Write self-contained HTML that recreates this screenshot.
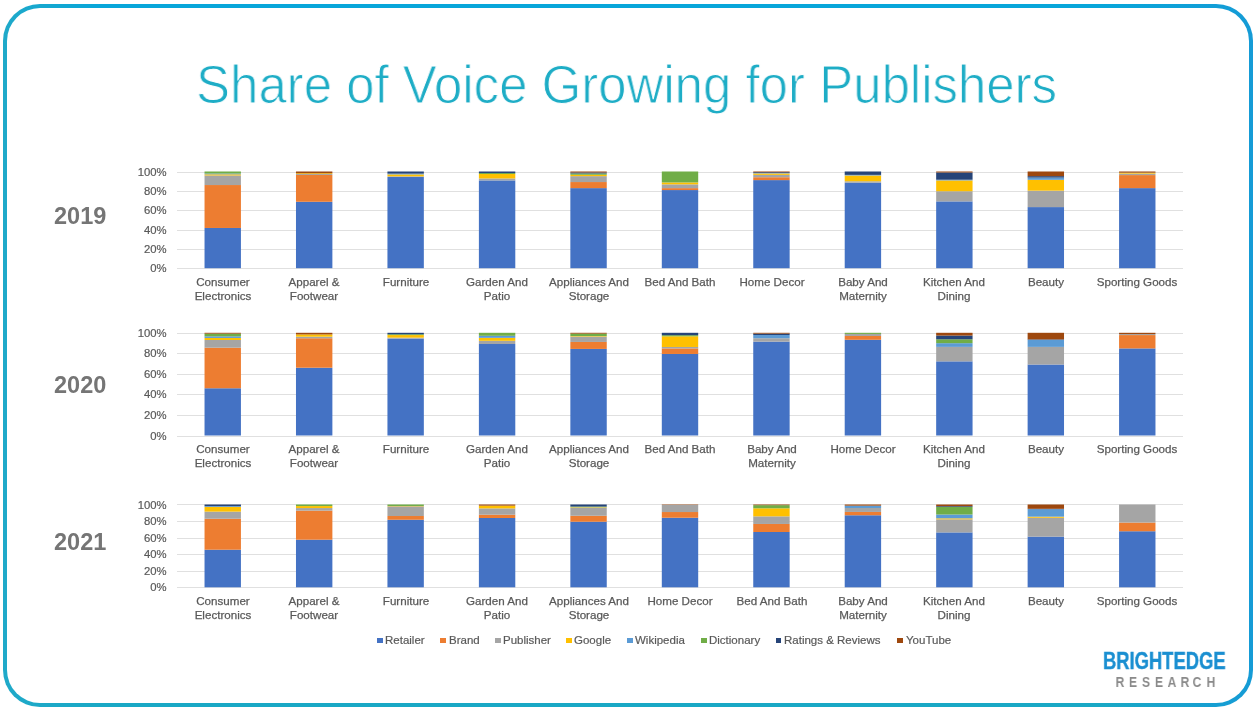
<!DOCTYPE html>
<html><head><meta charset="utf-8"><title>Share of Voice Growing for Publishers</title>
<style>
*{margin:0;padding:0;box-sizing:border-box}
html,body{width:1260px;height:713px;overflow:hidden;background:#fff;font-family:"Liberation Sans",sans-serif;-webkit-font-smoothing:antialiased}
#frame{position:absolute;left:3px;top:4px;width:1250px;height:703px;border-radius:37px;background:linear-gradient(90deg,rgba(31,169,201,1) 0%,rgba(31,169,201,0) 8%,rgba(21,155,214,0) 88%,rgba(21,155,214,1) 100%),linear-gradient(180deg,#07a6da 0%,#12a6d2 50%,#19a8c5 100%)}
#inner{position:absolute;left:4px;top:4px;right:4px;bottom:4px;border-radius:33px;background:#fff}
#title{position:absolute;will-change:transform;left:195.5px;top:58px;font-size:54.3px;line-height:54.3px;color:#1eadc6;white-space:nowrap;transform-origin:0 0;transform:scaleX(0.9385);-webkit-text-stroke:1.0px #fff;paint-order:normal;}
svg{position:absolute;left:0;top:0}
.ax{position:absolute;will-change:transform;left:100px;width:66.6px;text-align:right;font-size:11.3px;line-height:14px;color:#595959;white-space:nowrap;-webkit-text-stroke:0.2px #595959}
.cl{position:absolute;will-change:transform;width:100px;text-align:center;font-size:11.6px;line-height:13.5px;color:#595959;white-space:nowrap;-webkit-text-stroke:0.25px #595959}
.yr{position:absolute;will-change:transform;left:53.7px;font-size:23.5px;line-height:24px;font-weight:bold;color:#757575}
.lsq{position:absolute;top:638px;width:5.6px;height:5.4px}
.lt{position:absolute;will-change:transform;top:632.7px;font-size:11.5px;line-height:14px;color:#595959;white-space:nowrap;-webkit-text-stroke:0.2px #595959}
#be{position:absolute;will-change:transform;left:1103px;top:650px;font-size:23px;line-height:23px;font-weight:bold;color:#1a8fd1;-webkit-text-stroke:0.4px #1a8fd1;transform-origin:0 0;transform:scaleX(0.8);white-space:nowrap}
.rsl{position:absolute;will-change:transform;top:673.6px;width:20px;text-align:center;font-size:15px;line-height:15px;font-weight:bold;color:#8a8a8a;transform:scaleX(0.82)}
</style></head><body>
<div id="frame"><div id="inner"></div></div>
<div id="title">Share of Voice Growing for Publishers</div>
<svg width="1260" height="713" viewBox="0 0 1260 713">
<line x1="177.0" x2="1183.0" y1="268.5" y2="268.5" stroke="#e0e0e0" stroke-width="1"/>
<line x1="177.0" x2="1183.0" y1="249.5" y2="249.5" stroke="#e0e0e0" stroke-width="1"/>
<line x1="177.0" x2="1183.0" y1="230.5" y2="230.5" stroke="#e0e0e0" stroke-width="1"/>
<line x1="177.0" x2="1183.0" y1="210.5" y2="210.5" stroke="#e0e0e0" stroke-width="1"/>
<line x1="177.0" x2="1183.0" y1="191.5" y2="191.5" stroke="#e0e0e0" stroke-width="1"/>
<line x1="177.0" x2="1183.0" y1="172.5" y2="172.5" stroke="#e0e0e0" stroke-width="1"/>
<rect x="204.53" y="227.97" width="36.4" height="40.23" fill="#4472C4"/>
<rect x="204.53" y="185.04" width="36.4" height="42.93" fill="#ED7D31"/>
<rect x="204.53" y="175.46" width="36.4" height="9.57" fill="#A5A5A5"/>
<rect x="204.53" y="174.30" width="36.4" height="1.16" fill="#FFC000"/>
<rect x="204.53" y="173.53" width="36.4" height="0.77" fill="#5B9BD5"/>
<rect x="204.53" y="171.50" width="36.4" height="2.03" fill="#70AD47"/>
<rect x="295.98" y="201.77" width="36.4" height="66.43" fill="#4472C4"/>
<rect x="295.98" y="174.98" width="36.4" height="26.79" fill="#ED7D31"/>
<rect x="295.98" y="174.01" width="36.4" height="0.97" fill="#A5A5A5"/>
<rect x="295.98" y="173.24" width="36.4" height="0.77" fill="#FFC000"/>
<rect x="295.98" y="171.50" width="36.4" height="1.74" fill="#9E480E"/>
<rect x="387.44" y="177.01" width="36.4" height="91.19" fill="#4472C4"/>
<rect x="387.44" y="176.34" width="36.4" height="0.68" fill="#A5A5A5"/>
<rect x="387.44" y="174.40" width="36.4" height="1.93" fill="#FFC000"/>
<rect x="387.44" y="173.63" width="36.4" height="0.77" fill="#5B9BD5"/>
<rect x="387.44" y="171.50" width="36.4" height="2.13" fill="#264478"/>
<rect x="478.89" y="180.40" width="36.4" height="87.80" fill="#4472C4"/>
<rect x="478.89" y="178.46" width="36.4" height="1.93" fill="#A5A5A5"/>
<rect x="478.89" y="174.01" width="36.4" height="4.45" fill="#FFC000"/>
<rect x="478.89" y="173.05" width="36.4" height="0.97" fill="#70AD47"/>
<rect x="478.89" y="171.50" width="36.4" height="1.55" fill="#264478"/>
<rect x="570.35" y="188.13" width="36.4" height="80.07" fill="#4472C4"/>
<rect x="570.35" y="182.04" width="36.4" height="6.09" fill="#ED7D31"/>
<rect x="570.35" y="176.14" width="36.4" height="5.90" fill="#A5A5A5"/>
<rect x="570.35" y="174.79" width="36.4" height="1.35" fill="#FFC000"/>
<rect x="570.35" y="173.43" width="36.4" height="1.35" fill="#70AD47"/>
<rect x="570.35" y="172.47" width="36.4" height="0.97" fill="#264478"/>
<rect x="570.35" y="171.50" width="36.4" height="0.97" fill="#9E480E"/>
<rect x="661.80" y="190.07" width="36.4" height="78.13" fill="#4472C4"/>
<rect x="661.80" y="188.13" width="36.4" height="1.93" fill="#ED7D31"/>
<rect x="661.80" y="184.36" width="36.4" height="3.77" fill="#A5A5A5"/>
<rect x="661.80" y="182.43" width="36.4" height="1.93" fill="#FFC000"/>
<rect x="661.80" y="171.50" width="36.4" height="10.93" fill="#70AD47"/>
<rect x="753.25" y="180.11" width="36.4" height="88.09" fill="#4472C4"/>
<rect x="753.25" y="177.21" width="36.4" height="2.90" fill="#ED7D31"/>
<rect x="753.25" y="174.88" width="36.4" height="2.32" fill="#A5A5A5"/>
<rect x="753.25" y="173.43" width="36.4" height="1.45" fill="#FFC000"/>
<rect x="753.25" y="172.95" width="36.4" height="0.48" fill="#5B9BD5"/>
<rect x="753.25" y="172.18" width="36.4" height="0.77" fill="#264478"/>
<rect x="753.25" y="171.50" width="36.4" height="0.68" fill="#9E480E"/>
<rect x="844.71" y="182.72" width="36.4" height="85.48" fill="#4472C4"/>
<rect x="844.71" y="181.27" width="36.4" height="1.45" fill="#A5A5A5"/>
<rect x="844.71" y="175.46" width="36.4" height="5.80" fill="#FFC000"/>
<rect x="844.71" y="174.88" width="36.4" height="0.58" fill="#5B9BD5"/>
<rect x="844.71" y="171.50" width="36.4" height="3.38" fill="#264478"/>
<rect x="936.16" y="201.38" width="36.4" height="66.82" fill="#4472C4"/>
<rect x="936.16" y="191.23" width="36.4" height="10.15" fill="#A5A5A5"/>
<rect x="936.16" y="180.40" width="36.4" height="10.83" fill="#FFC000"/>
<rect x="936.16" y="179.72" width="36.4" height="0.68" fill="#5B9BD5"/>
<rect x="936.16" y="172.47" width="36.4" height="7.25" fill="#264478"/>
<rect x="936.16" y="171.50" width="36.4" height="0.97" fill="#9E480E"/>
<rect x="1027.62" y="207.09" width="36.4" height="61.11" fill="#4472C4"/>
<rect x="1027.62" y="190.65" width="36.4" height="16.44" fill="#A5A5A5"/>
<rect x="1027.62" y="179.82" width="36.4" height="10.83" fill="#FFC000"/>
<rect x="1027.62" y="177.59" width="36.4" height="2.22" fill="#5B9BD5"/>
<rect x="1027.62" y="176.14" width="36.4" height="1.45" fill="#264478"/>
<rect x="1027.62" y="171.50" width="36.4" height="4.64" fill="#9E480E"/>
<rect x="1119.07" y="188.13" width="36.4" height="80.07" fill="#4472C4"/>
<rect x="1119.07" y="175.08" width="36.4" height="13.05" fill="#ED7D31"/>
<rect x="1119.07" y="173.63" width="36.4" height="1.45" fill="#A5A5A5"/>
<rect x="1119.07" y="172.66" width="36.4" height="0.97" fill="#FFC000"/>
<rect x="1119.07" y="171.50" width="36.4" height="1.16" fill="#9E480E"/>
<line x1="177.0" x2="1183.0" y1="436.5" y2="436.5" stroke="#e0e0e0" stroke-width="1"/>
<line x1="177.0" x2="1183.0" y1="415.5" y2="415.5" stroke="#e0e0e0" stroke-width="1"/>
<line x1="177.0" x2="1183.0" y1="394.5" y2="394.5" stroke="#e0e0e0" stroke-width="1"/>
<line x1="177.0" x2="1183.0" y1="374.5" y2="374.5" stroke="#e0e0e0" stroke-width="1"/>
<line x1="177.0" x2="1183.0" y1="353.5" y2="353.5" stroke="#e0e0e0" stroke-width="1"/>
<line x1="177.0" x2="1183.0" y1="333.5" y2="333.5" stroke="#e0e0e0" stroke-width="1"/>
<rect x="204.53" y="388.26" width="36.4" height="47.24" fill="#4472C4"/>
<rect x="204.53" y="347.69" width="36.4" height="40.57" fill="#ED7D31"/>
<rect x="204.53" y="339.99" width="36.4" height="7.70" fill="#A5A5A5"/>
<rect x="204.53" y="337.94" width="36.4" height="2.05" fill="#FFC000"/>
<rect x="204.53" y="336.39" width="36.4" height="1.54" fill="#5B9BD5"/>
<rect x="204.53" y="333.62" width="36.4" height="2.77" fill="#70AD47"/>
<rect x="204.53" y="332.80" width="36.4" height="0.82" fill="#9E480E"/>
<rect x="295.98" y="367.72" width="36.4" height="67.78" fill="#4472C4"/>
<rect x="295.98" y="338.24" width="36.4" height="29.47" fill="#ED7D31"/>
<rect x="295.98" y="336.70" width="36.4" height="1.54" fill="#A5A5A5"/>
<rect x="295.98" y="334.44" width="36.4" height="2.26" fill="#FFC000"/>
<rect x="295.98" y="332.80" width="36.4" height="1.64" fill="#9E480E"/>
<rect x="387.44" y="338.65" width="36.4" height="96.85" fill="#4472C4"/>
<rect x="387.44" y="337.63" width="36.4" height="1.03" fill="#A5A5A5"/>
<rect x="387.44" y="335.06" width="36.4" height="2.57" fill="#FFC000"/>
<rect x="387.44" y="334.24" width="36.4" height="0.82" fill="#70AD47"/>
<rect x="387.44" y="332.80" width="36.4" height="1.44" fill="#264478"/>
<rect x="478.89" y="343.99" width="36.4" height="91.51" fill="#4472C4"/>
<rect x="478.89" y="340.81" width="36.4" height="3.18" fill="#A5A5A5"/>
<rect x="478.89" y="337.83" width="36.4" height="2.98" fill="#FFC000"/>
<rect x="478.89" y="335.78" width="36.4" height="2.05" fill="#5B9BD5"/>
<rect x="478.89" y="332.80" width="36.4" height="2.98" fill="#70AD47"/>
<rect x="570.35" y="348.92" width="36.4" height="86.58" fill="#4472C4"/>
<rect x="570.35" y="341.94" width="36.4" height="6.98" fill="#ED7D31"/>
<rect x="570.35" y="336.60" width="36.4" height="5.34" fill="#A5A5A5"/>
<rect x="570.35" y="336.09" width="36.4" height="0.51" fill="#FFC000"/>
<rect x="570.35" y="333.62" width="36.4" height="2.46" fill="#70AD47"/>
<rect x="570.35" y="332.80" width="36.4" height="0.82" fill="#9E480E"/>
<rect x="661.80" y="353.96" width="36.4" height="81.54" fill="#4472C4"/>
<rect x="661.80" y="348.41" width="36.4" height="5.55" fill="#ED7D31"/>
<rect x="661.80" y="346.97" width="36.4" height="1.44" fill="#A5A5A5"/>
<rect x="661.80" y="336.29" width="36.4" height="10.68" fill="#FFC000"/>
<rect x="661.80" y="335.16" width="36.4" height="1.13" fill="#70AD47"/>
<rect x="661.80" y="332.80" width="36.4" height="2.36" fill="#264478"/>
<rect x="753.25" y="341.63" width="36.4" height="93.87" fill="#4472C4"/>
<rect x="753.25" y="338.24" width="36.4" height="3.39" fill="#A5A5A5"/>
<rect x="753.25" y="335.06" width="36.4" height="3.18" fill="#5B9BD5"/>
<rect x="753.25" y="333.62" width="36.4" height="1.44" fill="#264478"/>
<rect x="753.25" y="332.80" width="36.4" height="0.82" fill="#9E480E"/>
<rect x="844.71" y="339.78" width="36.4" height="95.72" fill="#4472C4"/>
<rect x="844.71" y="335.98" width="36.4" height="3.80" fill="#ED7D31"/>
<rect x="844.71" y="333.93" width="36.4" height="2.05" fill="#A5A5A5"/>
<rect x="844.71" y="332.80" width="36.4" height="1.13" fill="#70AD47"/>
<rect x="936.16" y="361.35" width="36.4" height="74.15" fill="#4472C4"/>
<rect x="936.16" y="346.87" width="36.4" height="14.48" fill="#A5A5A5"/>
<rect x="936.16" y="343.17" width="36.4" height="3.70" fill="#5B9BD5"/>
<rect x="936.16" y="339.27" width="36.4" height="3.90" fill="#70AD47"/>
<rect x="936.16" y="335.57" width="36.4" height="3.70" fill="#264478"/>
<rect x="936.16" y="332.80" width="36.4" height="2.77" fill="#9E480E"/>
<rect x="1027.62" y="364.53" width="36.4" height="70.97" fill="#4472C4"/>
<rect x="1027.62" y="346.87" width="36.4" height="17.66" fill="#A5A5A5"/>
<rect x="1027.62" y="339.89" width="36.4" height="6.98" fill="#5B9BD5"/>
<rect x="1027.62" y="339.37" width="36.4" height="0.51" fill="#264478"/>
<rect x="1027.62" y="332.80" width="36.4" height="6.57" fill="#9E480E"/>
<rect x="1119.07" y="348.41" width="36.4" height="87.09" fill="#4472C4"/>
<rect x="1119.07" y="335.06" width="36.4" height="13.35" fill="#ED7D31"/>
<rect x="1119.07" y="334.03" width="36.4" height="1.03" fill="#A5A5A5"/>
<rect x="1119.07" y="332.80" width="36.4" height="1.23" fill="#9E480E"/>
<line x1="177.0" x2="1183.0" y1="587.5" y2="587.5" stroke="#e0e0e0" stroke-width="1"/>
<line x1="177.0" x2="1183.0" y1="571.5" y2="571.5" stroke="#e0e0e0" stroke-width="1"/>
<line x1="177.0" x2="1183.0" y1="554.5" y2="554.5" stroke="#e0e0e0" stroke-width="1"/>
<line x1="177.0" x2="1183.0" y1="538.5" y2="538.5" stroke="#e0e0e0" stroke-width="1"/>
<line x1="177.0" x2="1183.0" y1="521.5" y2="521.5" stroke="#e0e0e0" stroke-width="1"/>
<line x1="177.0" x2="1183.0" y1="504.5" y2="504.5" stroke="#e0e0e0" stroke-width="1"/>
<rect x="204.53" y="549.71" width="36.4" height="37.59" fill="#4472C4"/>
<rect x="204.53" y="518.74" width="36.4" height="30.97" fill="#ED7D31"/>
<rect x="204.53" y="511.62" width="36.4" height="7.12" fill="#A5A5A5"/>
<rect x="204.53" y="506.90" width="36.4" height="4.72" fill="#FFC000"/>
<rect x="204.53" y="506.16" width="36.4" height="0.75" fill="#5B9BD5"/>
<rect x="204.53" y="504.50" width="36.4" height="1.66" fill="#264478"/>
<rect x="295.98" y="539.69" width="36.4" height="47.61" fill="#4472C4"/>
<rect x="295.98" y="510.63" width="36.4" height="29.06" fill="#ED7D31"/>
<rect x="295.98" y="508.06" width="36.4" height="2.57" fill="#A5A5A5"/>
<rect x="295.98" y="506.07" width="36.4" height="1.99" fill="#FFC000"/>
<rect x="295.98" y="504.50" width="36.4" height="1.57" fill="#70AD47"/>
<rect x="387.44" y="519.74" width="36.4" height="67.56" fill="#4472C4"/>
<rect x="387.44" y="516.01" width="36.4" height="3.73" fill="#ED7D31"/>
<rect x="387.44" y="506.32" width="36.4" height="9.69" fill="#A5A5A5"/>
<rect x="387.44" y="505.99" width="36.4" height="0.33" fill="#FFC000"/>
<rect x="387.44" y="504.50" width="36.4" height="1.49" fill="#70AD47"/>
<rect x="478.89" y="518.00" width="36.4" height="69.30" fill="#4472C4"/>
<rect x="478.89" y="514.68" width="36.4" height="3.31" fill="#ED7D31"/>
<rect x="478.89" y="508.39" width="36.4" height="6.29" fill="#A5A5A5"/>
<rect x="478.89" y="505.66" width="36.4" height="2.73" fill="#FFC000"/>
<rect x="478.89" y="504.50" width="36.4" height="1.16" fill="#9E480E"/>
<rect x="570.35" y="521.72" width="36.4" height="65.58" fill="#4472C4"/>
<rect x="570.35" y="515.76" width="36.4" height="5.96" fill="#ED7D31"/>
<rect x="570.35" y="507.65" width="36.4" height="8.11" fill="#A5A5A5"/>
<rect x="570.35" y="507.23" width="36.4" height="0.41" fill="#FFC000"/>
<rect x="570.35" y="506.57" width="36.4" height="0.66" fill="#70AD47"/>
<rect x="570.35" y="504.50" width="36.4" height="2.07" fill="#264478"/>
<rect x="661.80" y="517.75" width="36.4" height="69.55" fill="#4472C4"/>
<rect x="661.80" y="512.03" width="36.4" height="5.71" fill="#ED7D31"/>
<rect x="661.80" y="504.91" width="36.4" height="7.12" fill="#A5A5A5"/>
<rect x="661.80" y="504.50" width="36.4" height="0.41" fill="#9E480E"/>
<rect x="753.25" y="531.99" width="36.4" height="55.31" fill="#4472C4"/>
<rect x="753.25" y="523.96" width="36.4" height="8.03" fill="#ED7D31"/>
<rect x="753.25" y="516.34" width="36.4" height="7.62" fill="#A5A5A5"/>
<rect x="753.25" y="508.31" width="36.4" height="8.03" fill="#FFC000"/>
<rect x="753.25" y="505.16" width="36.4" height="3.15" fill="#70AD47"/>
<rect x="753.25" y="504.50" width="36.4" height="0.66" fill="#9E480E"/>
<rect x="844.71" y="515.26" width="36.4" height="72.04" fill="#4472C4"/>
<rect x="844.71" y="511.95" width="36.4" height="3.31" fill="#ED7D31"/>
<rect x="844.71" y="507.98" width="36.4" height="3.97" fill="#A5A5A5"/>
<rect x="844.71" y="505.66" width="36.4" height="2.32" fill="#5B9BD5"/>
<rect x="844.71" y="504.50" width="36.4" height="1.16" fill="#9E480E"/>
<rect x="936.16" y="532.40" width="36.4" height="54.90" fill="#4472C4"/>
<rect x="936.16" y="519.32" width="36.4" height="13.08" fill="#A5A5A5"/>
<rect x="936.16" y="518.33" width="36.4" height="0.99" fill="#FFC000"/>
<rect x="936.16" y="514.52" width="36.4" height="3.81" fill="#5B9BD5"/>
<rect x="936.16" y="506.90" width="36.4" height="7.62" fill="#70AD47"/>
<rect x="936.16" y="506.16" width="36.4" height="0.75" fill="#264478"/>
<rect x="936.16" y="504.50" width="36.4" height="1.66" fill="#9E480E"/>
<rect x="1027.62" y="536.63" width="36.4" height="50.67" fill="#4472C4"/>
<rect x="1027.62" y="517.75" width="36.4" height="18.88" fill="#A5A5A5"/>
<rect x="1027.62" y="516.67" width="36.4" height="1.08" fill="#FFC000"/>
<rect x="1027.62" y="509.22" width="36.4" height="7.45" fill="#5B9BD5"/>
<rect x="1027.62" y="508.81" width="36.4" height="0.41" fill="#264478"/>
<rect x="1027.62" y="504.50" width="36.4" height="4.31" fill="#9E480E"/>
<rect x="1119.07" y="531.24" width="36.4" height="56.06" fill="#4472C4"/>
<rect x="1119.07" y="522.55" width="36.4" height="8.69" fill="#ED7D31"/>
<rect x="1119.07" y="504.50" width="36.4" height="18.05" fill="#A5A5A5"/>
</svg>
<div class="ax" style="top:261.2px">0%</div>
<div class="ax" style="top:241.9px">20%</div>
<div class="ax" style="top:222.5px">40%</div>
<div class="ax" style="top:203.2px">60%</div>
<div class="ax" style="top:183.8px">80%</div>
<div class="ax" style="top:164.5px">100%</div>
<div class="cl" style="left:172.7px;top:275.0px">Consumer<br>Electronics</div>
<div class="cl" style="left:264.2px;top:275.0px">Apparel &amp;<br>Footwear</div>
<div class="cl" style="left:355.6px;top:275.0px">Furniture</div>
<div class="cl" style="left:447.1px;top:275.0px">Garden And<br>Patio</div>
<div class="cl" style="left:538.5px;top:275.0px">Appliances And<br>Storage</div>
<div class="cl" style="left:630.0px;top:275.0px">Bed And Bath</div>
<div class="cl" style="left:721.5px;top:275.0px">Home Decor</div>
<div class="cl" style="left:812.9px;top:275.0px">Baby And<br>Maternity</div>
<div class="cl" style="left:904.4px;top:275.0px">Kitchen And<br>Dining</div>
<div class="cl" style="left:995.8px;top:275.0px">Beauty</div>
<div class="cl" style="left:1087.3px;top:275.0px">Sporting Goods</div>
<div class="yr" style="top:204.1px">2019</div>
<div class="ax" style="top:428.5px">0%</div>
<div class="ax" style="top:408.0px">20%</div>
<div class="ax" style="top:387.4px">40%</div>
<div class="ax" style="top:366.9px">60%</div>
<div class="ax" style="top:346.3px">80%</div>
<div class="ax" style="top:325.8px">100%</div>
<div class="cl" style="left:172.7px;top:441.9px">Consumer<br>Electronics</div>
<div class="cl" style="left:264.2px;top:441.9px">Apparel &amp;<br>Footwear</div>
<div class="cl" style="left:355.6px;top:441.9px">Furniture</div>
<div class="cl" style="left:447.1px;top:441.9px">Garden And<br>Patio</div>
<div class="cl" style="left:538.5px;top:441.9px">Appliances And<br>Storage</div>
<div class="cl" style="left:630.0px;top:441.9px">Bed And Bath</div>
<div class="cl" style="left:721.5px;top:441.9px">Baby And<br>Maternity</div>
<div class="cl" style="left:812.9px;top:441.9px">Home Decor</div>
<div class="cl" style="left:904.4px;top:441.9px">Kitchen And<br>Dining</div>
<div class="cl" style="left:995.8px;top:441.9px">Beauty</div>
<div class="cl" style="left:1087.3px;top:441.9px">Sporting Goods</div>
<div class="yr" style="top:373.0px">2020</div>
<div class="ax" style="top:580.3px">0%</div>
<div class="ax" style="top:563.7px">20%</div>
<div class="ax" style="top:547.2px">40%</div>
<div class="ax" style="top:530.6px">60%</div>
<div class="ax" style="top:514.1px">80%</div>
<div class="ax" style="top:497.5px">100%</div>
<div class="cl" style="left:172.7px;top:594.3px">Consumer<br>Electronics</div>
<div class="cl" style="left:264.2px;top:594.3px">Apparel &amp;<br>Footwear</div>
<div class="cl" style="left:355.6px;top:594.3px">Furniture</div>
<div class="cl" style="left:447.1px;top:594.3px">Garden And<br>Patio</div>
<div class="cl" style="left:538.5px;top:594.3px">Appliances And<br>Storage</div>
<div class="cl" style="left:630.0px;top:594.3px">Home Decor</div>
<div class="cl" style="left:721.5px;top:594.3px">Bed And Bath</div>
<div class="cl" style="left:812.9px;top:594.3px">Baby And<br>Maternity</div>
<div class="cl" style="left:904.4px;top:594.3px">Kitchen And<br>Dining</div>
<div class="cl" style="left:995.8px;top:594.3px">Beauty</div>
<div class="cl" style="left:1087.3px;top:594.3px">Sporting Goods</div>
<div class="yr" style="top:530.3px">2021</div>
<div class="lsq" style="left:377.4px;background:#4472C4"></div><div class="lt" style="left:385.09999999999997px">Retailer</div>
<div class="lsq" style="left:440.3px;background:#ED7D31"></div><div class="lt" style="left:449.2px">Brand</div>
<div class="lsq" style="left:495.2px;background:#A5A5A5"></div><div class="lt" style="left:502.7px">Publisher</div>
<div class="lsq" style="left:566.2px;background:#FFC000"></div><div class="lt" style="left:574.1999999999999px">Google</div>
<div class="lsq" style="left:627.1px;background:#5B9BD5"></div><div class="lt" style="left:635.1px">Wikipedia</div>
<div class="lsq" style="left:701.0px;background:#70AD47"></div><div class="lt" style="left:708.9px">Dictionary</div>
<div class="lsq" style="left:775.7px;background:#264478"></div><div class="lt" style="left:783.6999999999999px">Ratings &amp; Reviews</div>
<div class="lsq" style="left:897.4px;background:#9E480E"></div><div class="lt" style="left:905.8px">YouTube</div>
<div id="be">BRIGHTEDGE</div>
<div class="rsl" style="left:1110.0px">R</div><div class="rsl" style="left:1123.2px">E</div><div class="rsl" style="left:1136.0px">S</div><div class="rsl" style="left:1148.9px">E</div><div class="rsl" style="left:1161.6px">A</div><div class="rsl" style="left:1174.6px">R</div><div class="rsl" style="left:1187.4px">C</div><div class="rsl" style="left:1201.0px">H</div>
</body></html>
